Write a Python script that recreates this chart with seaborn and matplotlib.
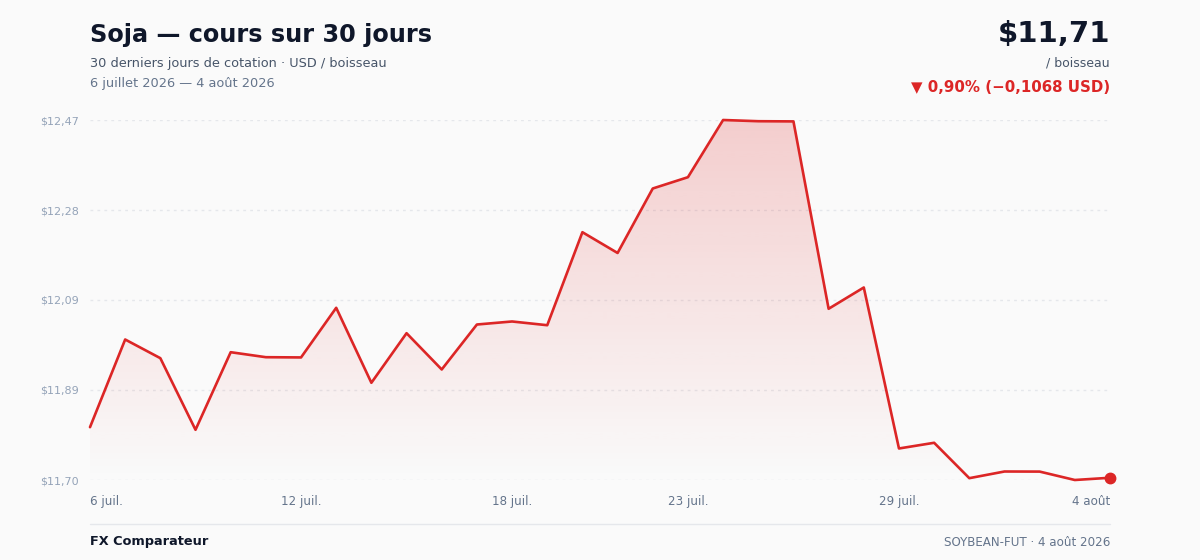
import numpy as np
import pandas as pd
import matplotlib
matplotlib.use("Agg")
import matplotlib.pyplot as plt
import matplotlib.dates as mdates
from matplotlib.patches import PathPatch
import seaborn as sns

# Cours du soja, 30 jours de cotation (USD / boisseau)
dates = pd.date_range("2026-07-06", "2026-08-04", freq="D")
prix = [11.8141, 12.0019, 11.9619, 11.8085, 11.9747, 11.9640, 11.9635, 12.0698,
        11.9092, 12.0154, 11.9377, 12.0340, 12.0405, 12.0325, 12.2317, 12.1872,
        12.3253, 12.3495, 12.4720, 12.4694, 12.4690, 12.0677, 12.1133, 11.7685,
        11.7807, 11.7049, 11.7192, 11.7190, 11.7010, 11.7058]

tick_dates = pd.to_datetime(["2026-07-06", "2026-07-12", "2026-07-18",
                             "2026-07-23", "2026-07-29", "2026-08-04"])
tick_labels = ["6 juil.", "12 juil.", "18 juil.", "23 juil.", "29 juil.", "4 août"]

variation_pct = -0.90
variation_usd = -0.1068

df = pd.DataFrame({"date": dates, "prix": prix})

ROUGE = "#dc2626"
FOND = "#fafafa"

sns.set_theme(style="white")
plt.rcParams["font.family"] = ["DejaVu Sans"]

fig = plt.figure(figsize=(12, 5.6), dpi=100, facecolor=FOND)
ax = fig.add_axes([90 / 1200, 80 / 560, 1020 / 1200, 360 / 560])
ax.set_facecolor(FOND)

ymin, ymax = min(prix), max(prix)
x0, x1 = mdates.date2num(dates[0]), mdates.date2num(dates[-1])

# remplissage en dégradé sous la courbe
poly = ax.fill_between(df["date"], df["prix"], ymin, color="none", lw=0)
rgba = np.zeros((256, 1, 4))
rgba[:, 0, :3] = matplotlib.colors.to_rgb(ROUGE)
rgba[:, 0, 3] = np.linspace(0.21, 0.0, 256)
img = ax.imshow(rgba, extent=[x0, x1, ymin, ymax], aspect="auto",
                origin="upper", zorder=1, interpolation="bilinear")
clip = PathPatch(poly.get_paths()[0], transform=ax.transData,
                 facecolor="none", edgecolor="none")
ax.add_patch(clip)
img.set_clip_path(clip)

sns.lineplot(data=df, x="date", y="prix", ax=ax, color=ROUGE, lw=1.9,
             zorder=3, clip_on=False)
ax.plot(dates[-1], prix[-1], "o", color=ROUGE, ms=7.5, zorder=4, clip_on=False)

ax.set_xlim(x0, x1)
ax.set_ylim(ymin, ymax)

yticks = np.linspace(ymin, ymax, 5)
ax.set_yticks(yticks)
ax.set_yticklabels([f"${v:.2f}".replace(".", ",") for v in yticks],
                   color="#94a3b8", fontsize=8)
ax.yaxis.grid(True, color="#e5e7eb", ls=(0, (2, 3)), lw=1)
ax.xaxis.grid(False)

ax.set_xticks(tick_dates)
ax.set_xticklabels(tick_labels, color="#64748b", fontsize=8.6)
labs = ax.get_xticklabels()
labs[0].set_ha("left")
labs[-1].set_ha("right")
ax.tick_params(axis="x", length=0, pad=10.5)
ax.tick_params(axis="y", length=0, pad=8)
ax.set_xlabel("")
ax.set_ylabel("")
for s in ax.spines.values():
    s.set_visible(False)


def fy(y):
    return 1 - y / 560


fig.text(90 / 1200, fy(42), "Soja — cours sur 30 jours", fontsize=17.3,
         fontweight="bold", color="#0f172a", va="baseline")
fig.text(90 / 1200, fy(66.5), "30 derniers jours de cotation · USD / boisseau",
         fontsize=9.3, color="#475569", va="baseline")
fig.text(90 / 1200, fy(87.5), "6 juillet 2026 — 4 août 2026",
         fontsize=9.3, color="#64748b", va="baseline")

fig.text(1110 / 1200, fy(42.5), f"${prix[-1]:.2f}".replace(".", ","),
         fontsize=21, fontweight="bold", color="#0f172a", ha="right", va="baseline")
fig.text(1110 / 1200, fy(66), "/ boisseau", fontsize=9, color="#475569",
         ha="right", va="baseline")
var_txt = f"▼ {abs(variation_pct):.2f}% (−{abs(variation_usd):.4f} USD)".replace(".", ",")
fig.text(1110 / 1200, fy(91.5), var_txt, fontsize=10.8, fontweight="bold",
         color=ROUGE, ha="right", va="baseline")

# pied de page
fig.add_artist(plt.Line2D([90 / 1200, 1110 / 1200], [fy(523.5), fy(523.5)],
                          color="#e5e7eb", lw=1))
fig.text(90 / 1200, fy(545.5), "FX Comparateur", fontsize=9.3, fontweight="bold",
         color="#0f172a", va="baseline")
fig.text(1110 / 1200, fy(545.5), "SOYBEAN-FUT · 4 août 2026", fontsize=8.6,
         color="#64748b", ha="right", va="baseline")

fig.savefig("out.png", dpi=100, facecolor=FOND)
